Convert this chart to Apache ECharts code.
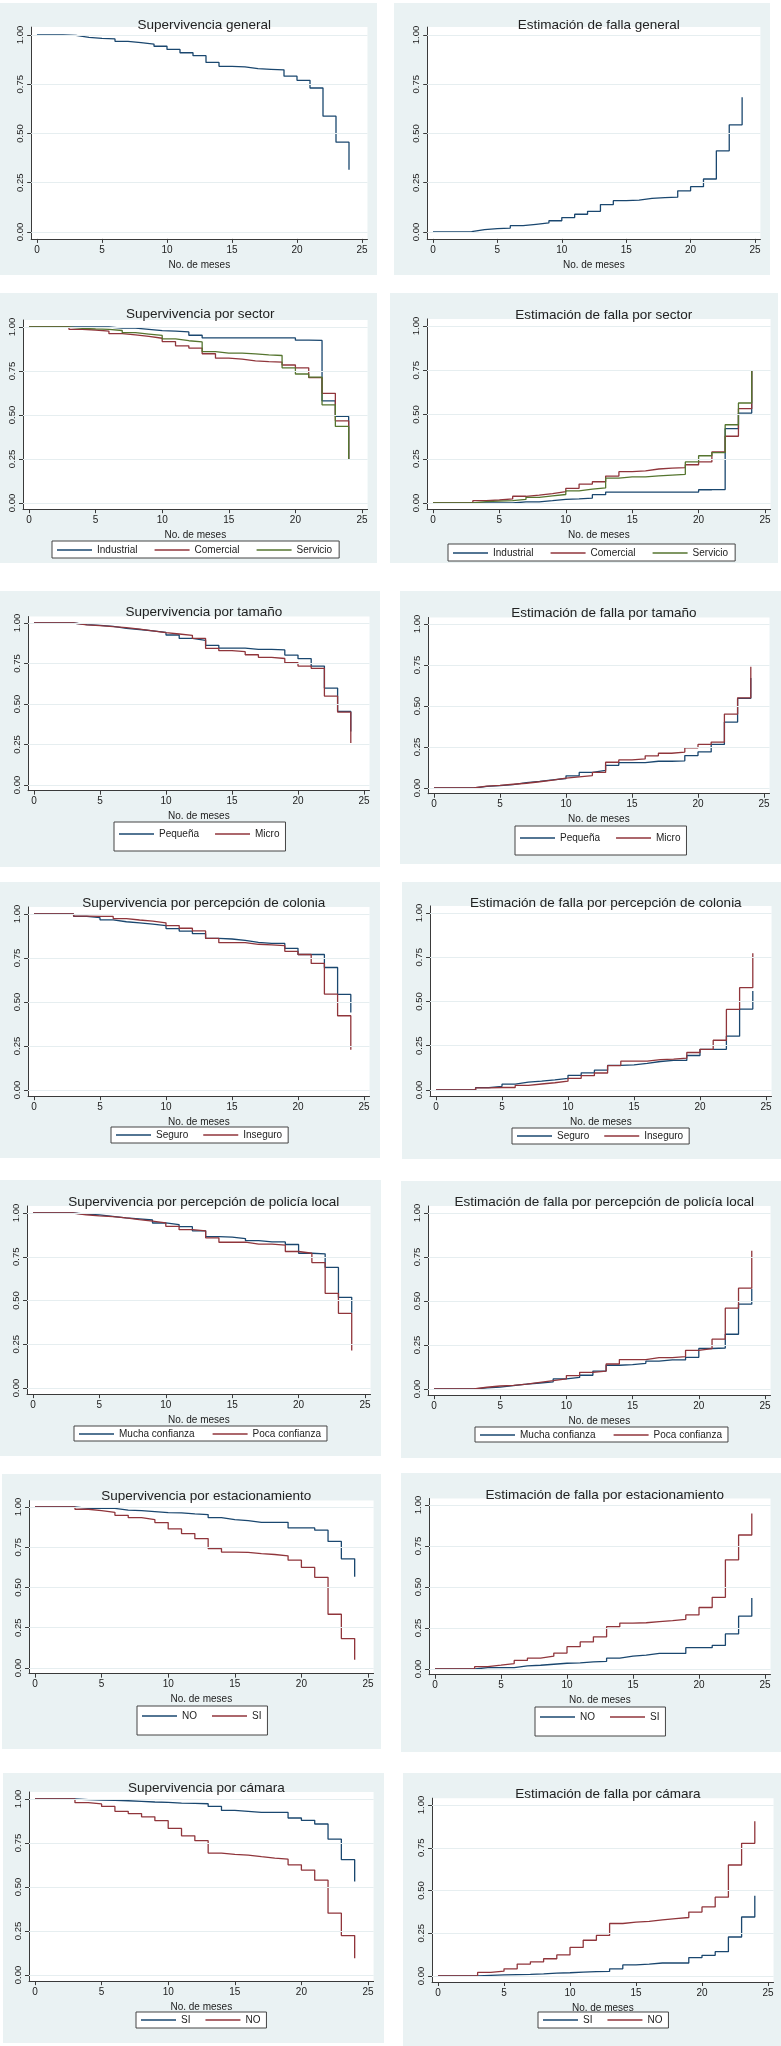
<!DOCTYPE html>
<html>
<head>
<meta charset="utf-8">
<script src="https://cdn.jsdelivr.net/npm/echarts@6/dist/echarts.min.js"></script>
<style>
html,body{margin:0;padding:0;background:#ffffff;}
body{position:relative;width:781px;height:2046px;overflow:hidden;}
.p{position:absolute;}
</style>
</head>
<body>
<script>
// ---------------- DATA ----------------
const months = [0,1,2,3,4,5,6,7,8,9,10,11,12,13,14,15,16,17,18,19,20,21,22,23,24];
const xTicks = [0,5,10,15,20,25];
const yTicks = [0,0.25,0.5,0.75,1];
const xAxisTitle = 'No. de meses';

// General
const survGeneral  = [1,1,0.998,0.988,0.983,0.980,0.968,0.961,0.954,0.943,0.927,0.910,0.895,0.861,0.841,0.838,0.829,0.826,0.823,0.791,0.770,0.731,0.588,0.456,0.316];
const fallaGeneral = [0,0,0.002,0.012,0.017,0.020,0.032,0.039,0.046,0.057,0.073,0.090,0.105,0.139,0.159,0.162,0.171,0.174,0.177,0.209,0.230,0.269,0.412,0.544,0.684];

// Sector
const survIndustrial  = [1,1,1,1,1,1,0.994,0.994,0.987,0.979,0.977,0.972,0.953,0.938,0.938,0.938,0.938,0.938,0.938,0.938,0.925,0.924,0.580,0.492,0.250];
const fallaIndustrial = [0,0,0,0,0,0,0.006,0.006,0.013,0.021,0.023,0.028,0.047,0.062,0.062,0.062,0.062,0.062,0.062,0.062,0.075,0.076,0.420,0.508,0.750];
const survComercial   = [1,1,1,0.987,0.983,0.977,0.962,0.955,0.947,0.936,0.917,0.893,0.880,0.848,0.823,0.818,0.808,0.803,0.800,0.784,0.768,0.712,0.623,0.467,0.250];
const fallaComercial  = [0,0,0,0.013,0.017,0.023,0.038,0.045,0.053,0.064,0.083,0.107,0.120,0.152,0.177,0.182,0.192,0.197,0.200,0.216,0.232,0.288,0.377,0.533,0.750];
const survServicio    = [1,1,1,0.992,0.989,0.987,0.980,0.968,0.960,0.952,0.932,0.922,0.915,0.860,0.852,0.852,0.847,0.842,0.838,0.768,0.733,0.715,0.558,0.435,0.250];
const fallaServicio   = [0,0,0,0.008,0.011,0.013,0.020,0.032,0.040,0.048,0.068,0.078,0.085,0.140,0.148,0.148,0.153,0.158,0.162,0.232,0.267,0.285,0.442,0.565,0.750];

// Tamaño
const survPequena  = [1,1,1,0.990,0.985,0.979,0.967,0.960,0.951,0.942,0.926,0.905,0.893,0.862,0.845,0.845,0.837,0.837,0.834,0.802,0.780,0.734,0.598,0.454,0.330];
const fallaPequena = [0,0,0,0.010,0.015,0.021,0.033,0.040,0.049,0.058,0.074,0.095,0.107,0.138,0.155,0.155,0.163,0.163,0.166,0.198,0.220,0.266,0.402,0.546,0.670];
const survMicro    = [1,1,1,0.989,0.984,0.977,0.971,0.962,0.952,0.940,0.932,0.924,0.905,0.843,0.829,0.823,0.804,0.788,0.781,0.755,0.734,0.720,0.549,0.450,0.260];
const fallaMicro   = [0,0,0,0.011,0.016,0.023,0.029,0.038,0.048,0.060,0.068,0.076,0.095,0.157,0.171,0.177,0.196,0.212,0.219,0.245,0.266,0.280,0.451,0.550,0.740];

// Colonia
const survSeguro    = [1,1,1,0.987,0.979,0.967,0.956,0.950,0.943,0.934,0.917,0.903,0.888,0.861,0.858,0.850,0.839,0.833,0.833,0.805,0.770,0.770,0.696,0.543,0.440];
const fallaSeguro   = [0,0,0,0.013,0.021,0.033,0.044,0.050,0.057,0.066,0.083,0.097,0.112,0.139,0.142,0.150,0.161,0.167,0.167,0.195,0.230,0.230,0.304,0.457,0.560];
const survInseguro  = [1,1,1,0.988,0.986,0.986,0.974,0.966,0.959,0.950,0.934,0.919,0.904,0.862,0.837,0.837,0.828,0.825,0.820,0.788,0.770,0.719,0.545,0.422,0.228];
const fallaInseguro = [0,0,0,0.012,0.014,0.014,0.026,0.034,0.041,0.050,0.066,0.081,0.096,0.138,0.163,0.163,0.172,0.175,0.180,0.212,0.230,0.281,0.455,0.578,0.772];

// Policía local
const survMucha  = [1,1,1,0.994,0.989,0.981,0.972,0.966,0.960,0.943,0.934,0.922,0.898,0.865,0.862,0.854,0.842,0.835,0.835,0.820,0.770,0.767,0.689,0.518,0.430];
const fallaMucha = [0,0,0,0.006,0.011,0.019,0.028,0.034,0.040,0.057,0.066,0.078,0.102,0.135,0.138,0.146,0.158,0.165,0.165,0.180,0.230,0.233,0.311,0.482,0.570];
const survPoca   = [1,1,1,0.990,0.983,0.979,0.972,0.962,0.953,0.943,0.924,0.905,0.898,0.858,0.833,0.833,0.822,0.822,0.816,0.780,0.770,0.717,0.541,0.427,0.214];
const fallaPoca  = [0,0,0,0.010,0.017,0.021,0.028,0.038,0.047,0.057,0.076,0.095,0.102,0.142,0.167,0.167,0.178,0.178,0.184,0.220,0.230,0.283,0.459,0.573,0.786];

// Estacionamiento
const survEstNO  = [1,1,1,0.992,0.992,0.992,0.981,0.977,0.971,0.965,0.963,0.957,0.953,0.934,0.922,0.915,0.905,0.905,0.905,0.870,0.870,0.856,0.786,0.678,0.567];
const fallaEstNO = [0,0,0,0.008,0.008,0.008,0.019,0.023,0.029,0.035,0.037,0.043,0.047,0.066,0.078,0.085,0.095,0.095,0.095,0.130,0.130,0.144,0.214,0.322,0.433];
const survEstSI  = [1,1,1,0.986,0.977,0.967,0.948,0.934,0.922,0.903,0.864,0.835,0.804,0.742,0.720,0.718,0.711,0.705,0.697,0.670,0.625,0.563,0.334,0.183,0.052];
const fallaEstSI = [0,0,0,0.014,0.023,0.033,0.052,0.066,0.078,0.097,0.136,0.165,0.196,0.258,0.280,0.282,0.289,0.295,0.303,0.330,0.375,0.437,0.666,0.817,0.948];

// Cámara
const survCamSI  = [1,1,1,0.996,0.994,0.992,0.990,0.987,0.983,0.981,0.977,0.975,0.973,0.958,0.935,0.930,0.924,0.924,0.924,0.892,0.879,0.858,0.772,0.655,0.531];
const fallaCamSI = [0,0,0,0.004,0.006,0.008,0.010,0.013,0.017,0.019,0.023,0.025,0.027,0.042,0.065,0.070,0.076,0.076,0.076,0.108,0.121,0.142,0.228,0.345,0.469];
const survCamNO  = [1,1,1,0.979,0.972,0.958,0.930,0.917,0.899,0.877,0.833,0.791,0.763,0.693,0.685,0.681,0.672,0.664,0.658,0.626,0.596,0.539,0.351,0.224,0.095];
const fallaCamNO = [0,0,0,0.021,0.028,0.042,0.070,0.083,0.101,0.123,0.167,0.209,0.237,0.307,0.315,0.319,0.328,0.336,0.342,0.374,0.404,0.461,0.649,0.776,0.905];

// ---------------- STYLE / LAYOUT ----------------
const NAVY = '#1a476f', MAROON = '#90353b', GREEN = '#55752f';
const BG = '#eaf2f3', GRIDC = '#e6eef0', AXC = '#3a3a3a', TXT = '#222222';
const FONT = '"Liberation Sans", Arial, Helvetica, sans-serif';
const xMin = -0.45, xMax = 25.42, yMin = -0.035, yMax = 1.04;

const panels = [
  {title:'Supervivencia general', box:[0,3,377,272], x0:37,x25:362,y1:35,y0:232, tcy:21,
   series:[{name:'General', color:NAVY, data:survGeneral}], legend:null},
  {title:'Estimación de falla general', box:[394,3,376,272], x0:433,x25:755,y1:35,y0:232, tcy:21,
   series:[{name:'General', color:NAVY, data:fallaGeneral}], legend:null},

  {title:'Supervivencia por sector', box:[0,293,377,270], x0:29,x25:362,y1:327,y0:503, tcy:310,
   series:[{name:'Industrial',color:NAVY,data:survIndustrial},{name:'Comercial',color:MAROON,data:survComercial},{name:'Servicio',color:GREEN,data:survServicio}],
   legend:{x:52,y:541,pad:[4,7,3,5],gap:17}},
  {title:'Estimación de falla por sector', box:[390,293,388,270], x0:433,x25:765,y1:326,y0:503, tcy:311,
   series:[{name:'Industrial',color:NAVY,data:fallaIndustrial},{name:'Comercial',color:MAROON,data:fallaComercial},{name:'Servicio',color:GREEN,data:fallaServicio}],
   legend:{x:448,y:544,pad:[4,7,3,5],gap:17}},

  {title:'Supervivencia por tamaño', box:[0,591,380,276], x0:34,x25:364,y1:623,y0:785, tcy:608,
   series:[{name:'Pequeña',color:NAVY,data:survPequena},{name:'Micro',color:MAROON,data:survMicro}],
   legend:{x:114,y:822,pad:[7,6,12,5],gap:16}},
  {title:'Estimación de falla por tamaño', box:[400,591,381,273], x0:434,x25:764,y1:624,y0:788, tcy:609,
   series:[{name:'Pequeña',color:NAVY,data:fallaPequena},{name:'Micro',color:MAROON,data:fallaMicro}],
   legend:{x:515,y:826,pad:[7,6,12,5],gap:16}},

  {title:'Supervivencia por percepción de colonia', box:[0,882,380,276], x0:34,x25:364,y1:914,y0:1090, tcy:899,
   series:[{name:'Seguro',color:NAVY,data:survSeguro},{name:'Inseguro',color:MAROON,data:survInseguro}],
   legend:{x:111,y:1127,pad:[3,6,3,5],gap:15}},
  {title:'Estimación de falla por percepción de colonia', box:[402,882,379,277], x0:436,x25:766,y1:913,y0:1090, tcy:899,
   series:[{name:'Seguro',color:NAVY,data:fallaSeguro},{name:'Inseguro',color:MAROON,data:fallaInseguro}],
   legend:{x:512,y:1128,pad:[3,6,3,5],gap:15}},

  {title:'Supervivencia por percepción de policía local', box:[0,1180,381,276], x0:33,x25:365,y1:1213,y0:1388, tcy:1198,
   series:[{name:'Mucha confianza',color:NAVY,data:survMucha},{name:'Poca confianza',color:MAROON,data:survPoca}],
   legend:{x:74,y:1426,pad:[3,6,2,5],gap:18}},
  {title:'Estimación de falla por percepción de policía local', box:[401,1181,380,277], x0:434,x25:765,y1:1213,y0:1389, tcy:1198,
   series:[{name:'Mucha confianza',color:NAVY,data:fallaMucha},{name:'Poca confianza',color:MAROON,data:fallaPoca}],
   legend:{x:475,y:1427,pad:[3,6,2,5],gap:18}},

  {title:'Supervivencia por estacionamiento', box:[2,1474,379,275], x0:35,x25:368,y1:1507,y0:1668, tcy:1492,
   series:[{name:'NO',color:NAVY,data:survEstNO},{name:'SI',color:MAROON,data:survEstSI}],
   legend:{x:137,y:1706,pad:[5,6,14,5],gap:15}},
  {title:'Estimación de falla por estacionamiento', box:[401,1473,380,279], x0:435,x25:765,y1:1505,y0:1669, tcy:1491,
   series:[{name:'NO',color:NAVY,data:fallaEstNO},{name:'SI',color:MAROON,data:fallaEstSI}],
   legend:{x:535,y:1707,pad:[5,6,14,5],gap:15}},

  {title:'Supervivencia por cámara', box:[3,1773,381,270], x0:35,x25:368,y1:1799,y0:1975, tcy:1784,
   series:[{name:'SI',color:NAVY,data:survCamSI},{name:'NO',color:MAROON,data:survCamNO}],
   legend:{x:136,y:2012,pad:[3,6,3,5],gap:15}},
  {title:'Estimación de falla por cámara', box:[403,1773,378,273], x0:438,x25:768,y1:1805,y0:1976, tcy:1790,
   series:[{name:'SI',color:NAVY,data:fallaCamSI},{name:'NO',color:MAROON,data:fallaCamNO}],
   legend:{x:538,y:2012,pad:[3,6,3,5],gap:15}}
];

function pairs(arr){ return months.map((m,i)=>[m, arr[i]]); }

panels.forEach(p => {
  const [bx,by,bw,bh] = p.box;
  const div = document.createElement('div');
  div.className = 'p';
  div.style.cssText = `left:${bx}px;top:${by}px;width:${bw}px;height:${bh}px;background:${BG};`;
  document.body.appendChild(div);
  const chart = echarts.init(div, null, {renderer:'canvas'});

  const sx = (p.x25 - p.x0) / 25;
  const sy = p.y0 - p.y1;
  const gl = p.x0 + xMin * sx - bx;
  const gw = (xMax - xMin) * sx;
  const gt = p.y1 - (yMax - 1) * sy - by;
  const gh = (yMax - yMin) * sy;

  const series = [{
    type:'line', data:[], z:1, silent:true,
    markLine:{silent:true, symbol:'none', animation:false,
      label:{show:false},
      lineStyle:{color:GRIDC, width:1, type:'solid'},
      data: yTicks.map(v => ({yAxis:v}))}
  }].concat(p.series.map(s => ({
    type:'line', name:s.name, step:'end', data:pairs(s.data),
    symbol:'none', showSymbol:false, z:3,
    lineStyle:{color:s.color, width:1.3}, itemStyle:{color:s.color},
    emphasis:{disabled:true}
  })));

  const option = {
    animation:false,
    backgroundColor:BG,
    textStyle:{fontFamily:FONT},
    title:{text:p.title, left:gl + gw/2, top:p.tcy - by - 8, textAlign:'center',
      textStyle:{fontSize:13.5, fontWeight:'normal', color:TXT, fontFamily:FONT}},
    grid:{left:gl, top:gt, width:gw, height:gh, show:true, backgroundColor:'#ffffff', borderWidth:0,
      containLabel:false, outerBoundsMode:'none'},
    xAxis:{type:'value', min:xMin, max:xMax,
      axisLine:{show:true, onZero:false, lineStyle:{color:AXC, width:1}},
      axisTick:{show:true, length:4, customValues:xTicks, lineStyle:{color:AXC}},
      axisLabel:{show:true, customValues:xTicks, margin:6, fontSize:10, color:TXT, fontFamily:FONT},
      splitLine:{show:false},
      name:xAxisTitle, nameLocation:'middle', nameGap:16,
      nameTextStyle:{fontSize:10, color:TXT, fontFamily:FONT, verticalAlign:'top'}},
    yAxis:{type:'value', min:yMin, max:yMax,
      axisLine:{show:true, onZero:false, lineStyle:{color:AXC, width:1}},
      axisTick:{show:true, length:4, customValues:yTicks, lineStyle:{color:AXC}},
      axisLabel:{show:true, customValues:yTicks, rotate:90, margin:6, fontSize:9.5, color:TXT, fontFamily:FONT,
        formatter: v => Number(v).toFixed(2)},
      splitLine:{show:false}},
    series: series
  };
  if (p.legend) {
    option.legend = {
      data: p.series.map(s => s.name),
      left: p.legend.x - bx, top: p.legend.y - by,
      orient:'horizontal', padding:p.legend.pad, itemGap:p.legend.gap,
      itemWidth:35, itemHeight:1.6, icon:'rect',
      backgroundColor:'#ffffff', borderColor:'#444444', borderWidth:1, borderRadius:0,
      selectedMode:false,
      textStyle:{fontSize:10, color:TXT, fontFamily:FONT}
    };
  }
  chart.setOption(option);
});
</script>
</body>
</html>
